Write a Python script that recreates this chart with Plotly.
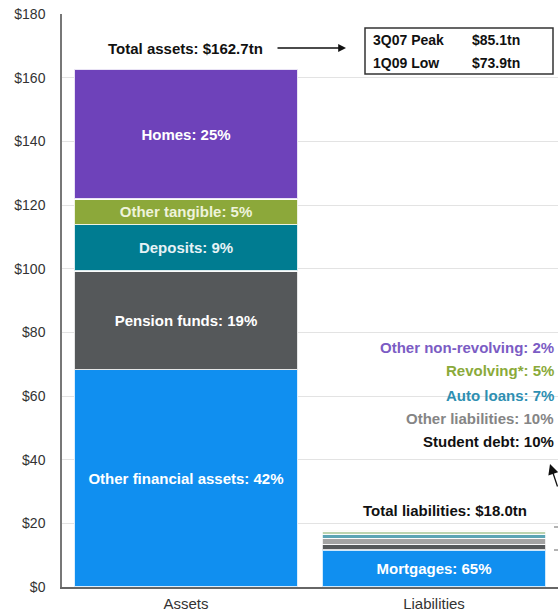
import plotly.graph_objects as go

# ---- data ----
categories = ["Assets", "Liabilities"]
asset_names = ["Other financial assets", "Pension funds", "Deposits", "Other tangible", "Homes"]
asset_pcts = [42, 19, 9, 5, 25]
asset_values = [68.3, 30.9, 14.6, 8.1, 40.8]          # $tn, total 162.7
liab_names = ["Mortgages", "Student debt", "Other liabilities", "Auto loans", "Revolving*", "Other non-revolving"]
liab_pcts = [65, 10, 10, 7, 5, 2]
liab_values = [11.7, 1.8, 1.8, 1.26, 0.9, 0.36]      # $tn, total ~18.0
total_assets = 162.7
total_liabs = 18.0
peak_rows = [("3Q07 Peak", "$85.1tn"), ("1Q09 Low", "$73.9tn")]
y_ticks = [0, 20, 40, 60, 80, 100, 120, 140, 160, 180]

# ---- styles ----
FONT = "Liberation Sans, Arial, sans-serif"
FS = 15
asset_colors = ["#108FF0", "#55585A", "#007C91", "#8CA83A", "#6E42BA"]
asset_text_colors = ["white", "white", "#E6F2F6", "#EEF3DA", "white"]
liab_colors = ["#108FF0", "#55585A", "#A3A3A3", "#5BA4B4", "#BCD3AE", "#E9EADB"]
liab_label_colors = [None, "#111111", "#858585", "#2E8FB2", "#8AAA3A", "#7B5CC4"]

fig = go.Figure()

for name, pct, val, col, tcol in zip(asset_names, asset_pcts, asset_values, asset_colors, asset_text_colors):
    fig.add_trace(go.Bar(
        x=[categories[0]], y=[val], name=name,
        marker=dict(color=col, line=dict(color="rgba(255,255,255,0.85)", width=1.5)),
        text=[f"<b>{name}: {pct}%</b>"], textposition="inside", insidetextanchor="middle",
        textfont=dict(color=tcol, size=FS, family=FONT), textangle=0,
        hoverinfo="skip",
    ))

for i, (name, pct, val, col) in enumerate(zip(liab_names, liab_pcts, liab_values, liab_colors)):
    fig.add_trace(go.Bar(
        x=[categories[1]], y=[val], name=name,
        marker=dict(color=col, line=dict(color="rgba(255,255,255,0.8)", width=1 if i else 1.5)),
        text=[f"<b>{name}: {pct}%</b>" if i == 0 else ""], textposition="inside",
        insidetextanchor="middle", textangle=0,
        textfont=dict(color="white", size=FS, family=FONT),
        hoverinfo="skip",
    ))

def px2paper(px):
    return (px - 62) / 496.0

def py2data(py):
    return (587 - py) / (573 / 180.0)

annotations = []
# total assets label + arrow
annotations.append(dict(xref="paper", yref="y", x=px2paper(185), y=py2data(48), xanchor="center",
                        text=f"<b>Total assets: ${total_assets}tn</b>",
                        showarrow=False, font=dict(size=FS, color="#111", family=FONT)))
annotations.append(dict(xref="paper", yref="y", x=px2paper(346), y=py2data(48), ax=-70, ay=0, text="",
                        showarrow=True, arrowhead=2, arrowsize=1.2, arrowwidth=1.3, arrowcolor="#111"))
# peak/low box text
for j, (lab, val) in enumerate(peak_rows):
    yy = py2data(40 + j * 23)
    annotations.append(dict(xref="paper", yref="y", x=px2paper(371), y=yy, xanchor="left", text=f"<b>{lab}</b>",
                            showarrow=False, font=dict(size=FS - 1, color="#111", family=FONT)))
    annotations.append(dict(xref="paper", yref="y", x=px2paper(470), y=yy, xanchor="left", text=f"<b>{val}</b>",
                            showarrow=False, font=dict(size=FS - 1, color="#111", family=FONT)))
# liabilities side labels (right-aligned at the right edge)
label_py = {1: 441, 2: 418, 3: 395, 4: 370, 5: 347}
for i in range(1, len(liab_names)):
    annotations.append(dict(xref="paper", yref="y", x=px2paper(556), y=py2data(label_py[i]), xanchor="right",
                            text=f"<b>{liab_names[i]}: {liab_pcts[i]}%</b>",
                            showarrow=False, font=dict(size=FS, color=liab_label_colors[i], family=FONT)))
annotations.append(dict(xref="paper", yref="y", x=px2paper(445), y=py2data(510), xanchor="center",
                        text=f"<b>Total liabilities: ${total_liabs:.1f}tn</b>",
                        showarrow=False, font=dict(size=FS, color="#111", family=FONT)))
annotations.append(dict(xref="paper", yref="y", x=px2paper(550), y=py2data(464), ax=60, ay=24, text="",
                        showarrow=True, arrowhead=2, arrowsize=1.6, arrowwidth=1.3, arrowcolor="#111"))

shapes = [dict(type="rect", xref="paper", yref="y", x0=px2paper(365), x1=px2paper(553),
               y0=py2data(74), y1=py2data(28),
               line=dict(color="#333", width=1.5), fillcolor="rgba(0,0,0,0)")]
for py in (527, 550):
    shapes.append(dict(type="line", xref="paper", yref="y", x0=px2paper(554), x1=px2paper(560),
                       y0=py2data(py), y1=py2data(py), line=dict(color="#666", width=1)))

fig.update_layout(
    width=558, height=613,
    margin=dict(l=62, r=0, t=14, b=26),
    barmode="stack", bargap=0.1,
    showlegend=False,
    plot_bgcolor="white", paper_bgcolor="white",
    font=dict(family=FONT, color="#333"),
    annotations=annotations,
    shapes=shapes,
    xaxis=dict(showline=True, linecolor="#666", linewidth=1.5, tickfont=dict(size=FS, color="#333"),
               ticks="", showgrid=False, automargin=False, ticklabelstandoff=2),
    yaxis=dict(range=[0, 180], tickvals=y_ticks, ticktext=[f"${v}" for v in y_ticks],
               showline=True, linecolor="#777", linewidth=1.5, showgrid=True, gridcolor="#E3E3E3",
               tickfont=dict(size=FS - 1, color="#333"), zeroline=False, ticks="", automargin=False,
               ticklabelstandoff=12),
)

fig.write_html("out.html", post_script="document.body.style.margin='0';",
               config={"displayModeBar": False})
